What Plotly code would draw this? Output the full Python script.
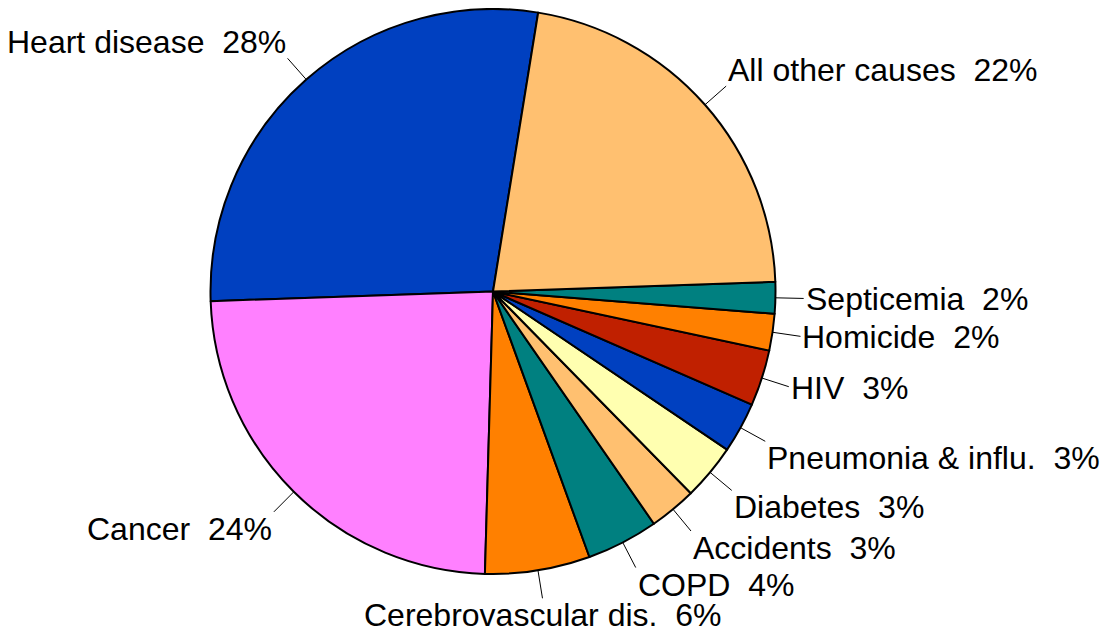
import math
import plotly.graph_objects as go

# Data (counterclockwise order starting near 12 o'clock)
causes = ["Heart disease", "Cancer", "Cerebrovascular dis.", "COPD", "Accidents",
          "Diabetes", "Pneumonia & influ.", "HIV", "Homicide", "Septicemia",
          "All other causes"]
shares = [28.1, 24.0, 6.0, 4.1, 2.7, 3.2, 2.9, 3.2, 2.1, 1.8, 21.9]
pct_labels = ["28%", "24%", "6%", "4%", "3%", "3%", "3%", "3%", "2%", "2%", "22%"]
colors = ["#0040C0", "#FF80FF", "#FF8000", "#008080", "#FFC070", "#FFFFB0",
          "#0040C0", "#C02000", "#FF8000", "#008080", "#FFC070"]

W, H = 1112, 634
OFF = 8.0  # page body margin
cx, cy, R = 493.0 - OFF, 291.5 - OFF, 282.5
start_cw = 9.2  # degrees clockwise from 12 o'clock where the first slice starts

total = sum(shares)
# plotly (counterclockwise) puts the first slice clockwise of `rotation`
rotation = start_cw - 360.0 * shares[0] / total

fig = go.Figure()
fig.add_trace(go.Pie(
    labels=causes, values=shares, sort=False, direction="counterclockwise",
    rotation=rotation, textinfo="none", hoverinfo="label+percent",
    marker=dict(colors=colors, line=dict(color="black", width=2)),
    domain=dict(x=[(cx - R) / W, (cx + R) / W], y=[1 - (cy + R) / H, 1 - (cy - R) / H]),
    showlegend=False,
))

start = 90.0 - start_cw  # math angle (ccw from east)
cum = 0.0
shapes, annotations = [], []
for name, v, p in zip(causes, shares, pct_labels):
    mid = math.radians(start + (cum + v / 2) / total * 360.0)
    cum += v
    c, s = math.cos(mid), math.sin(mid)
    x0, y0 = cx + R * c, cy - R * s
    x1, y1 = cx + 1.1 * R * c, cy - 1.1 * R * s
    shapes.append(dict(type="line", xref="paper", yref="paper",
                       x0=x0 / W, y0=1 - y0 / H, x1=x1 / W, y1=1 - y1 / H,
                       line=dict(color="black", width=1)))
    xa = "center" if abs(c) < 0.3 else ("left" if c > 0 else "right")
    if abs(s) < 0.4:
        ya, ys = "middle", -1
    elif s > 0:
        ya, ys = "bottom", -4
    else:
        ya, ys = "top", 3
    annotations.append(dict(x=x1 / W, y=1 - y1 / H, xref="paper", yref="paper",
                            text=name + "\u00a0\u00a0" + p, showarrow=False,
                            xanchor=xa, yanchor=ya, yshift=ys,
                            font=dict(family="Liberation Sans, Arial, sans-serif",
                                      size=32, color="black")))

fig.update_layout(width=W, height=H, margin=dict(l=0, r=0, t=0, b=0),
                  paper_bgcolor="white", plot_bgcolor="white",
                  shapes=shapes, annotations=annotations)
fig.write_html("out.html")
